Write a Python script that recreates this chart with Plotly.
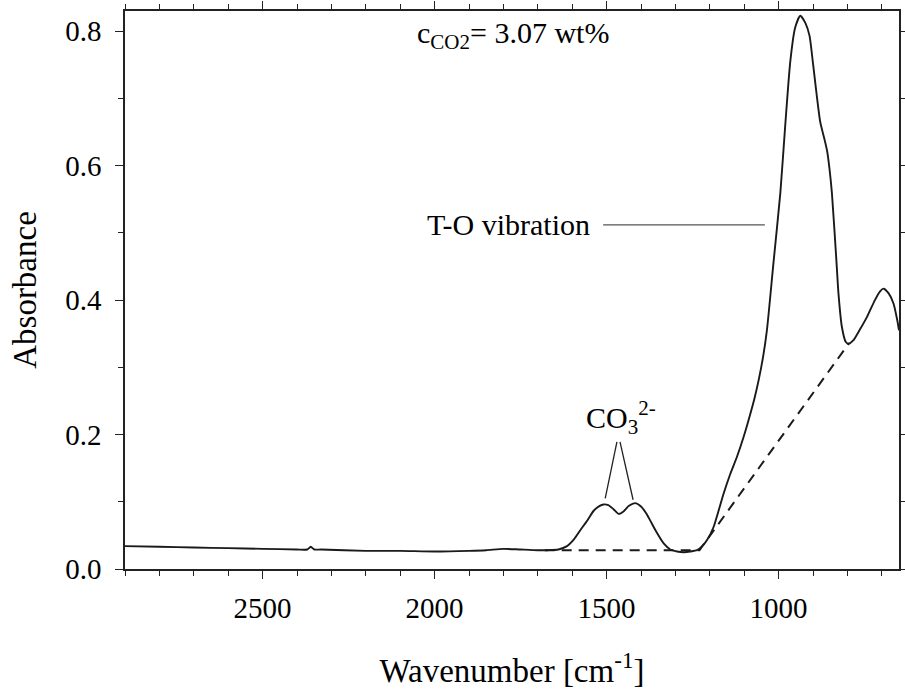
import plotly.graph_objects as go

# Spectrum (wavenumber in cm^-1, absorbance)
wavenumber = [2900, 2800, 2700, 2600, 2500, 2400, 2370, 2360, 2350, 2330, 2200, 2100, 2000, 1900,
              1850, 1800, 1750, 1700, 1670, 1640, 1615, 1595, 1576, 1555, 1537, 1520, 1509, 1495,
              1480, 1465, 1450, 1435, 1417, 1400, 1385, 1373, 1355, 1334, 1315, 1295, 1275, 1257,
              1237, 1222, 1208, 1189, 1160, 1140, 1121, 1102, 1087, 1070, 1058, 1045, 1034, 1015,
              995, 981, 966, 952, 937, 922, 910, 900, 879, 867, 859, 852, 845, 832, 826, 816, 805,
              797, 783, 765, 743, 720, 705, 695, 680, 666, 655, 650]
absorbance = [0.034, 0.033, 0.032, 0.031, 0.030, 0.029, 0.029, 0.033, 0.029, 0.029, 0.027, 0.027, 0.026, 0.027,
              0.028, 0.030, 0.029, 0.028, 0.028, 0.029, 0.034, 0.044, 0.058, 0.073, 0.087, 0.094, 0.096, 0.095,
              0.089, 0.082, 0.086, 0.094, 0.098, 0.093, 0.083, 0.072, 0.055, 0.038, 0.029, 0.026, 0.025, 0.026,
              0.028, 0.034, 0.043, 0.0625, 0.112, 0.142, 0.167, 0.196, 0.222, 0.254, 0.281, 0.316, 0.355, 0.455,
              0.559, 0.658, 0.755, 0.805, 0.823, 0.812, 0.793, 0.752, 0.665, 0.640, 0.622, 0.595, 0.559, 0.459,
              0.410, 0.360, 0.338, 0.335, 0.340, 0.355, 0.375, 0.400, 0.413, 0.417, 0.410, 0.395, 0.370, 0.355]

# Dashed baseline
baseline_x = [1680, 1230, 795]
baseline_y = [0.028, 0.028, 0.336]

# Leader lines for labels
to_line_x = [1510, 1040]
to_line_y = [0.512, 0.512]
co3_left_x = [1470, 1504]
co3_left_y = [0.189, 0.105]
co3_right_x = [1461, 1423]
co3_right_y = [0.189, 0.103]

x_ticks = [2500, 2000, 1500, 1000]
y_ticks = [0.0, 0.2, 0.4, 0.6, 0.8]
y_tick_labels = ["0.0", "0.2", "0.4", "0.6", "0.8"]

FONT = "Liberation Serif"

fig = go.Figure()
fig.add_trace(go.Scatter(x=baseline_x, y=baseline_y, mode="lines",
                         line=dict(color="#1a1a1a", width=2, dash="10px,7px"), hoverinfo="skip"))
fig.add_trace(go.Scatter(x=wavenumber, y=absorbance, mode="lines",
                         line=dict(color="#1a1a1a", width=1.9, shape="spline", smoothing=0.6)))
for lx, ly, col in [(to_line_x, to_line_y, "#555555"), (co3_left_x, co3_left_y, "#222222"),
                    (co3_right_x, co3_right_y, "#222222")]:
    fig.add_trace(go.Scatter(x=lx, y=ly, mode="lines", line=dict(color=col, width=1.3), hoverinfo="skip"))

fig.add_annotation(x=1771, y=0.795, text="c<sub>CO2</sub>= 3.07 wt%", showarrow=False,
                   font=dict(family=FONT, size=30, color="black"), xanchor="center", yanchor="middle")
fig.add_annotation(x=1542, y=0.512, text="T-O vibration", showarrow=False,
                   font=dict(family=FONT, size=30, color="black"), xanchor="right", yanchor="middle")
fig.add_annotation(x=1457, y=0.225, text="CO<sub>3</sub><sup>2-</sup>", showarrow=False,
                   font=dict(family=FONT, size=30, color="black"), xanchor="center", yanchor="middle")

axis_common = dict(showgrid=False, zeroline=False, showline=True, linecolor="#222222", linewidth=1.5,
                   mirror="allticks", ticks="outside", ticklen=8, tickwidth=1.3, tickcolor="#222222",
                   tickfont=dict(family=FONT, size=29, color="black"))

fig.update_xaxes(range=[2900, 650], tickvals=x_ticks, ticklabelstandoff=4,
                 minor=dict(dtick=100, tick0=0, ticks="outside", ticklen=5, tickwidth=1.2, tickcolor="#222222"),
                 title=dict(text="Wavenumber [cm<sup>-1</sup>]", font=dict(family=FONT, size=33, color="black"),
                            standoff=36),
                 **axis_common)
fig.update_yaxes(range=[0, 0.83], tickvals=y_ticks, ticktext=y_tick_labels, ticklabelstandoff=8,
                 minor=dict(dtick=0.1, tick0=0, ticks="outside", ticklen=5, tickwidth=1.2, tickcolor="#222222"),
                 title=dict(text="Absorbance", font=dict(family=FONT, size=33, color="black"), standoff=19),
                 **axis_common)

fig.update_layout(width=905, height=689, margin=dict(l=125, r=6, t=11, b=120, autoexpand=False),
                  font=dict(family=FONT, color="black"),
                  paper_bgcolor="white", plot_bgcolor="white", showlegend=False)

fig.write_html("out.html")
